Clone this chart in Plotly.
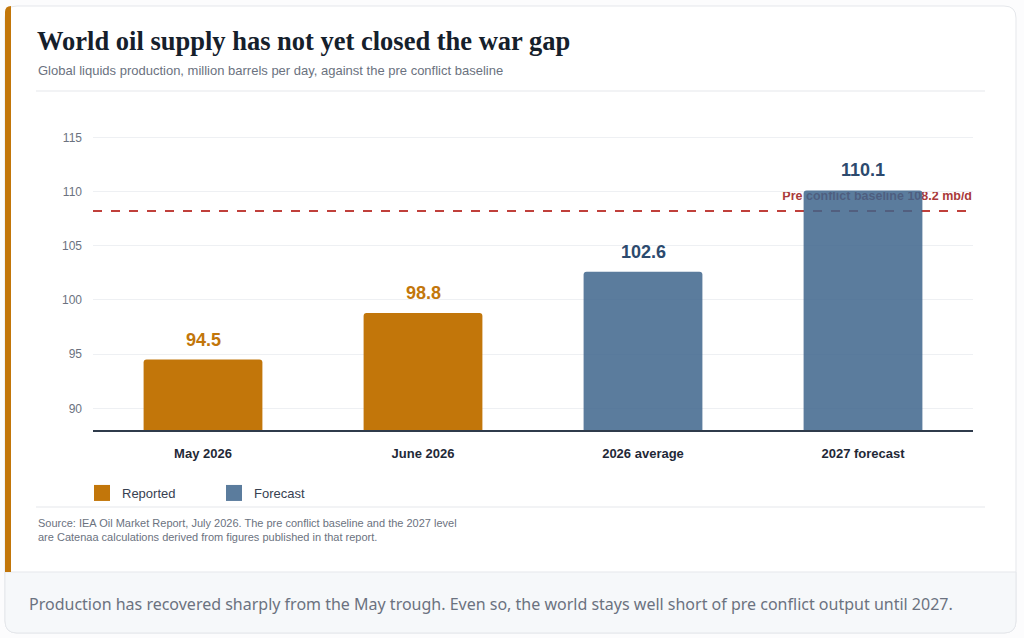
import plotly.graph_objects as go

# =============================================================================
# DATA
# =============================================================================
CATEGORIES = ["May 2026", "June 2026", "2026 average", "2027 forecast"]
REPORTED_CATS = ["May 2026", "June 2026"]
REPORTED_VALS = [94.5, 98.8]
FORECAST_CATS = ["2026 average", "2027 forecast"]
FORECAST_VALS = [102.6, 110.1]
BASELINE = 108.2
Y_TICKS = [90, 95, 100, 105, 110, 115]

TITLE = "World oil supply has not yet closed the war gap"
SUBTITLE = "Global liquids production, million barrels per day, against the pre conflict baseline"
SOURCE = ("Source: IEA Oil Market Report, July 2026. The pre conflict baseline and the 2027 level<br>"
          "are Catenaa calculations derived from figures published in that report.")
FOOTER = ("Production has recovered sharply from the May trough. Even so, the world stays "
          "well short of pre conflict output until 2027.")

# =============================================================================
# STYLE
# =============================================================================
W, H = 1024, 638
ORANGE = "#C2760A"
BLUE = "#3E658C"
BLUE_FLAT = "#5B7C9D"  # forecast colour as it looks over white
ORANGE_TXT = "#C2760A"
BLUE_TXT = "#2C4A6E"
RED = "#C0403B"
GRAY = "#6B7280"
SANS = "Liberation Sans, Arial, sans-serif"
PLOT_W = 973 - 93


def px(x):
    return x / W


def py(y):
    return 1 - y / H


def rounded_path(x0, y0, x1, y1, r, corners=(True, True, True, True)):
    """Rounded rect path in paper coords; corners = tl, tr, br, bl."""
    rx, ry = r / W, r / H
    X0, X1 = px(x0), px(x1)
    Y0, Y1 = py(y0), py(y1)  # Y0 top, Y1 bottom
    tl, tr, br, bl = corners
    p = f"M{X0 + (rx if tl else 0)},{Y0} "
    p += f"L{X1 - (rx if tr else 0)},{Y0} "
    if tr:
        p += f"Q{X1},{Y0} {X1},{Y0 - ry} "
    p += f"L{X1},{Y1 + (ry if br else 0)} "
    if br:
        p += f"Q{X1},{Y1} {X1 - rx},{Y1} "
    p += f"L{X0 + (rx if bl else 0)},{Y1} "
    if bl:
        p += f"Q{X0},{Y1} {X0},{Y1 + ry} "
    p += f"L{X0},{Y0 - (ry if tl else 0)} "
    if tl:
        p += f"Q{X0},{Y0} {X0 + rx},{Y0} "
    return p + "Z"


fig = go.Figure()

fig.add_trace(go.Bar(
    x=REPORTED_CATS, y=REPORTED_VALS, name="Reported", showlegend=False,
    marker=dict(color=ORANGE, cornerradius=3, line_width=0),
))
fig.add_trace(go.Bar(
    x=FORECAST_CATS, y=FORECAST_VALS, name="Forecast", showlegend=False,
    marker=dict(color=BLUE, cornerradius=3, line_width=0),
    opacity=0.85,
))

# legend keys (bigger squares than the default bar icon)
for name, col in [("Reported", ORANGE), ("Forecast", BLUE_FLAT)]:
    fig.add_trace(go.Scatter(
        x=[None], y=[None], mode="markers", name=name,
        marker=dict(symbol="square", size=16, color=col),
    ))

# value labels above bars
for cats, vals, col in [(REPORTED_CATS, REPORTED_VALS, ORANGE_TXT), (FORECAST_CATS, FORECAST_VALS, BLUE_TXT)]:
    for c, v in zip(cats, vals):
        fig.add_annotation(
            x=CATEGORIES.index(c), y=v, text=f"{v:.1f}", showarrow=False, yanchor="bottom", yshift=8,
            font=dict(family=SANS, size=18, color=col, weight="bold"),
        )

LABEL_PAD = 10
shapes = [
    # card
    dict(type="path", xref="paper", yref="paper", layer="below",
         path=rounded_path(5, 6, 1016, 633, 12), fillcolor="white",
         line=dict(color="#E5E7EB", width=1)),
    # footer band
    dict(type="path", xref="paper", yref="paper", layer="below",
         path=rounded_path(5, 572, 1016, 633, 12, (False, False, True, True)),
         fillcolor="#F6F8FA", line=dict(color="#E5E7EB", width=1)),
    # orange accent bar
    dict(type="path", xref="paper", yref="paper", layer="below",
         path=rounded_path(5, 6, 11, 572, 6, (True, False, False, False)),
         fillcolor=ORANGE, line=dict(width=0)),
    # separators
    dict(type="line", xref="paper", yref="paper", layer="below",
         x0=px(36), x1=px(985), y0=py(91), y1=py(91), line=dict(color="#E5E7EB", width=1)),
    dict(type="line", xref="paper", yref="paper", layer="below",
         x0=px(36), x1=px(985), y0=py(507), y1=py(507), line=dict(color="#E5E7EB", width=1)),
    # baseline
    dict(type="line", xref="x domain", yref="y", layer="below",
         x0=0, x1=1, y0=BASELINE, y1=BASELINE,
         line=dict(color=RED, width=2, dash="dash")),
    # baseline label (invisible carrier line so padding only lifts the text)
    dict(type="line", xref="x domain", yref="y", layer="below",
         x0=0, x1=1 + (LABEL_PAD - 1) / PLOT_W, y0=BASELINE, y1=BASELINE,
         line=dict(color="rgba(0,0,0,0)", width=0),
         label=dict(text=f"Pre conflict baseline {BASELINE} mb/d", textposition="end",
                    xanchor="right", yanchor="bottom", textangle=0, padding=LABEL_PAD,
                    font=dict(family=SANS, size=12.5, color="#A93A3A", weight="bold"))),
]

annotations = [
    dict(xref="paper", yref="paper", x=px(35), y=py(41), xanchor="left", yanchor="middle",
         text=TITLE, showarrow=False,
         font=dict(family="Liberation Serif, Georgia, serif", size=26.5, color="#15202B", weight="bold")),
    dict(xref="paper", yref="paper", x=px(36), y=py(71), xanchor="left", yanchor="middle",
         text=SUBTITLE, showarrow=False, font=dict(family=SANS, size=13, color=GRAY)),
    dict(xref="paper", yref="paper", x=px(36), y=py(530), xanchor="left", yanchor="middle",
         text=SOURCE, showarrow=False, align="left", font=dict(family=SANS, size=11, color=GRAY)),
    dict(xref="paper", yref="paper", x=px(27), y=py(604), xanchor="left", yanchor="middle",
         text=FOOTER, showarrow=False, font=dict(family="Noto Sans, Open Sans, sans-serif", size=16, color=GRAY)),
]
for a in annotations:
    fig.add_annotation(**a)

fig.update_layout(
    width=W, height=H,
    margin=dict(l=0, r=0, t=0, b=0),
    paper_bgcolor="#FCFCFD",
    plot_bgcolor="rgba(0,0,0,0)",
    barmode="overlay",
    bargap=0.46,
    shapes=shapes,
    font=dict(family=SANS, color=GRAY),
    legend=dict(
        orientation="h", x=px(82), y=py(493), xanchor="left", yanchor="middle",
        font=dict(family=SANS, size=13, color="#374151"),
        entrywidth=87, bgcolor="rgba(0,0,0,0)",
    ),
    xaxis=dict(
        domain=[px(93), px(973)],
        categoryorder="array", categoryarray=CATEGORIES,
        showline=True, linecolor="#2F3B4B", linewidth=1.5,
        showgrid=False, ticks="", ticklabelstandoff=11,
        tickfont=dict(family=SANS, size=13, color="#1F2937", weight="bold"),
        fixedrange=True,
    ),
    yaxis=dict(
        domain=[py(430), py(126.5)],
        range=[88, 116], tickvals=Y_TICKS,
        showgrid=True, gridcolor="#EEF0F3", gridwidth=1,
        zeroline=False, showline=False, ticks="", ticklabelstandoff=10,
        tickfont=dict(family=SANS, size=12, color=GRAY),
        fixedrange=True,
    ),
)

fig.write_html("out.html", config={"displayModeBar": False},
               post_script="document.body.style.margin='0';document.body.style.overflow='hidden';")
